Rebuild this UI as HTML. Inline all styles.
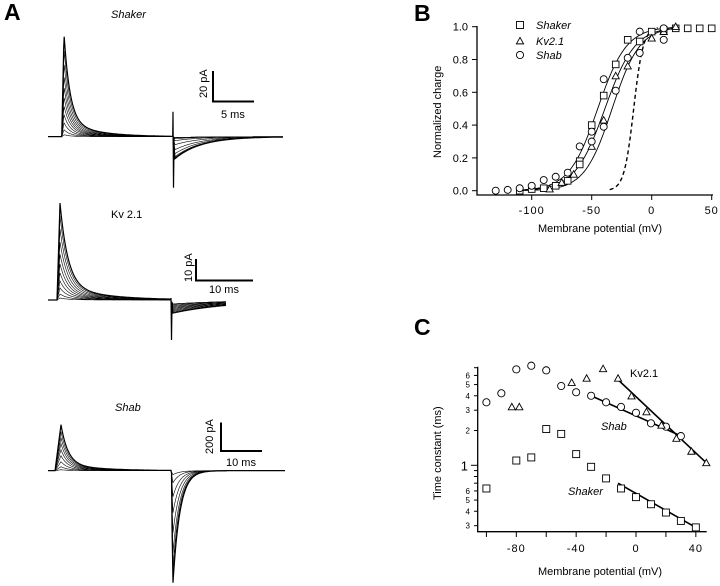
<!DOCTYPE html>
<html><head><meta charset="utf-8"><style>
body{margin:0;background:#fff;}
svg{display:block;font-family:"Liberation Sans",sans-serif;}
text{fill:#000;}
</style></head><body>
<svg id="fig" width="720" height="586" viewBox="0 0 720 586">
<g>
<text x="4" y="20" font-size="23" font-weight="bold">A</text>
<text x="111" y="18" font-size="11" font-style="italic">Shaker</text>
<text x="111" y="218" font-size="11">Kv 2.1</text>
<text x="115" y="411" font-size="11" font-style="italic">Shab</text>
<g id="traces"></g>
<g>
<path d="M213,71 V101.5 H254" fill="none" stroke="#000" stroke-width="2"/>
<text transform="translate(207,98) rotate(-90)" font-size="11">20 pA</text>
<text x="221" y="118" font-size="11">5 ms</text></g>
<g>
<path d="M196,259 V280.5 H253" fill="none" stroke="#000" stroke-width="2"/>
<text transform="translate(192,282) rotate(-90)" font-size="11">10 pA</text>
<text x="209" y="293" font-size="11">10 ms</text></g>
<g>
<path d="M221,422.5 V451 H262" fill="none" stroke="#000" stroke-width="2"/>
<text transform="translate(213,454) rotate(-90)" font-size="11">200 pA</text>
<text x="226" y="466" font-size="11">10 ms</text></g>
</g>
<g id="pb">
<text x="414" y="21" font-size="23" font-weight="bold">B</text>
<text transform="translate(441,158) rotate(-90)" font-size="11">Normalized charge</text>
<text x="600" y="232" font-size="11" text-anchor="middle">Membrane potential (mV)</text>
</g>
<g id="pc">
<text x="414" y="335" font-size="23" font-weight="bold">C</text>
<text transform="translate(441,500) rotate(-90)" font-size="11">Time constant (ms)</text>
<text x="600" y="575" font-size="11" text-anchor="middle">Membrane potential (mV)</text>
<text x="630" y="377" font-size="11">Kv2.1</text>
<text x="601" y="430" font-size="11" font-style="italic">Shab</text>
<text x="568" y="495" font-size="11" font-style="italic">Shaker</text>
</g>
</svg>
<script>
// ---- Panel A trace amplitudes (pixels of deflection) ----
const shakerOnAmps=[103,88,74,61,50,40,31,22,14,7,2];
const shakerOffAmps=[22,21,20,17,13,8,4,2,1];
const kvOnAmps=[97,84,71,58,46,36,27,19,12,6,2];
const kvOffAmps=[13,12,11,10,9,8,7,6,5,4];
const shabOnAmps=[46,39,33,27,21,15,9,4,1];
const shabOffAmps=[112,106,96,82,62,42,26,12,4];
// ---- Panel B data ----
const shakerQV=[[-110,0],[-100,0.01],[-90,0.015],[-80,0.03],[-70,0.06],[-60,0.18],[-60,0.16],[-50,0.40],[-40,0.58],[-30,0.77],[-20,0.92],[-10,0.91],[0,0.97],[10,0.98],[20,0.99],[30,0.99],[40,0.99],[50,0.99]];
const kvQV=[[-85,0.01],[-75,0.05],[-65,0.1],[-50,0.27],[-40,0.43],[-30,0.70],[-20,0.76],[0,0.93],[10,0.97],[20,1.0]];
const shabQV=[[-130,0],[-120,0.005],[-110,0.015],[-100,0.03],[-90,0.065],[-80,0.085],[-70,0.11],[-60,0.27],[-50,0.36],[-50,0.30],[-40,0.68],[-40,0.39],[-30,0.61],[-20,0.81],[-10,0.84],[-10,0.97],[10,0.92],[10,0.99]];
const bFitHalf=[-45,-39,-33];
const bFitSlope=[12,12.5,11.5];
const bDashHalf=-15, bDashSlope=4;
const bXTicks=[-100,-50,0,50];
const bYTicks=[0,0.2,0.4,0.6,0.8,1.0];
// ---- Panel C data ----
const shakerTau=[[-100,0.63],[-80,1.1],[-70,1.17],[-60,2.06],[-50,1.87],[-40,1.25],[-30,0.97],[-20,0.77],[-10,0.63],[0,0.53],[10,0.46],[20,0.39],[30,0.33],[40,0.29]];
const shabTau=[[-100,3.51],[-90,4.2],[-80,6.77],[-70,7.28],[-60,6.64],[-50,4.86],[-40,4.29],[-30,4.0],[-20,3.51],[-10,3.2],[0,2.85],[10,2.31],[20,2.16],[30,1.79]];
const kvTau=[[-83,3.2],[-78,3.2],[-43,5.2],[-33,5.66],[-22,6.85],[-12,5.66],[-3,3.98],[7,2.9],[17,2.22],[27,1.71],[37,1.32],[47,1.05]];
const kvFit=[[-13,5.66],[47,1.05]];
const shabFit=[[-30,4.0],[32,1.75]];
const shakerFit=[[-12,0.7],[42,0.28]];
const cXTicks=[-100,-80,-60,-40,-20,0,20,40];
const cXLabels=[-80,-40,0,40];
const cYMajor=[1];
const cYLabeled=[0.3,0.4,0.5,0.6,2,3,4,5,6];
const cYMinor=[0.7,0.8,0.9,7];

const NS='http://www.w3.org/2000/svg';
function mk(tag,attrs,parent){const e=document.createElementNS(NS,tag);for(const k in attrs)e.setAttribute(k,attrs[k]);parent.appendChild(e);return e;}

// Panel A traces
const tg=document.getElementById('traces');
function trace(x0,xOn,xStep,xEnd,base,amp,tauOn,riseW,offAmp,tauOff,spikeUp,spikeDn,sw){
  let d=`M${x0},${base} L${xOn},${base}`;
  for(let x=xOn;x<=xStep;x+=0.5){let y;const t=x-xOn;
    if(t<riseW)y=base-amp*(t/riseW);else y=base-amp*(0.85*Math.exp(-(t-riseW)/tauOn)+0.15*Math.exp(-(t-riseW)/(tauOn*5)));
    d+=` L${x.toFixed(1)},${y.toFixed(1)}`;}
  d+=` L${xStep},${base-spikeUp} L${xStep+0.5},${base+spikeDn}`;
  for(let x=xStep+1;x<=xEnd;x+=0.5){const t=x-xStep;let y;
    if(t<2)y=base+offAmp*(t/2);else y=base+offAmp*Math.exp(-(t-2)/tauOff);
    d+=` L${x.toFixed(1)},${y.toFixed(1)}`;}
  const p=mk('path',{d:d,fill:'none',stroke:'#000','stroke-width':sw},tg);
  return p;
}
shakerOnAmps.forEach((a,i)=>{const off=shakerOffAmps[Math.min(i,shakerOffAmps.length-1)];
  const p=trace(48,61.7,173,283,136.7,a,6,2.3,off,26,i===0?25:2,i===0?51:20-i,i<1?1.2:0.6);
  
  });
kvOnAmps.forEach((a,i)=>{const off=kvOffAmps[Math.min(i,kvOffAmps.length-1)];
  const p=trace(48,57,171,226,300,a,8,3,off,60,2,i===0?40:off+8,i<1?1.2:0.6);
  
  });
shabOnAmps.forEach((a,i)=>{const off=shabOffAmps[Math.min(i,shabOffAmps.length-1)];
  const p=trace(48,55,171,285,470.7,a,7,6,off,7,0,2,i<1?1.2:0.6);
  
  });

// Panel B
const pb=document.getElementById('pb');
const bx=v=>651.7+1.2*v, by=q=>190.7-164*q;
mk('path',{d:'M477,26 V195 H713',fill:'none',stroke:'#000','stroke-width':1.3,},pb);
bXTicks.forEach(v=>{const l=mk('line',{x1:bx(v),x2:bx(v),y1:195,y2:200,stroke:'#000'},pb);
  
  
  const t=mk('text',{x:bx(v),y:214,'font-size':11,'text-anchor':'middle','letter-spacing':'1'},pb);t.textContent=v;
  
  });
bYTicks.forEach(q=>{const l=mk('line',{x1:472,x2:477,y1:by(q),y2:by(q),stroke:'#000'},pb);
  
  
  const t=mk('text',{x:468,y:by(q)+4,'font-size':11,'text-anchor':'end'},pb);t.textContent=q.toFixed(1);
  
  });
function boltz(h,k,v0,v1){let d='';for(let v=v0;v<=v1;v+=1){const q=1/(1+Math.exp(-(v-h)/k));d+=(d?' L':'M')+bx(v).toFixed(1)+','+by(q).toFixed(1);}return d;}
bFitHalf.forEach((h,i)=>{const p=mk('path',{d:boltz(h,bFitSlope[i],-110,20),fill:'none',stroke:'#000','stroke-width':0.9},pb);
  
  });
const dp=mk('path',{d:boltz(bDashHalf,bDashSlope,-35,5),fill:'none',stroke:'#000','stroke-width':1.4,'stroke-dasharray':'4,3'},pb);


function sq(x,y,s,g){return mk('rect',{x:x-s,y:y-s,width:2*s,height:2*s,fill:'#fff',stroke:'#000','stroke-width':0.9},g);}
function tri(x,y,s,g){return mk('path',{d:`M${x},${y-s} L${x+s},${y+s*0.8} L${x-s},${y+s*0.8}Z`,fill:'#fff',stroke:'#000','stroke-width':0.9},g);}
function circ(x,y,s,g){return mk('circle',{cx:x,cy:y,r:s,fill:'#fff',stroke:'#000','stroke-width':0.9},g);}
shakerQV.forEach(([v,q])=>{const e=sq(bx(v),by(q),3.3,pb);
  });
kvQV.forEach(([v,q])=>{const e=tri(bx(v),by(q),3.6,pb);
  });
shabQV.forEach(([v,q])=>{const e=circ(bx(v),by(q),3.5,pb);
  });
// legend
const lg=mk('g',{},pb);
sq(520,25,3.5,lg);tri(520,41,3.6,lg);circ(520,55,3.6,lg);
[['Shaker',29],['Kv2.1',45],['Shab',59]].forEach(([s,y])=>{const t=mk('text',{x:536,y:y,'font-size':11,'font-style':'italic'},lg);t.textContent=s;
  
  });

// Panel C
const pc=document.getElementById('pc');
const cx=v=>636+1.496*v, cy=t=>465.3-115.5*Math.log10(t);
mk('path',{d:'M477.7,366.7 V531.7 H706.7',fill:'none',stroke:'#000','stroke-width':1.3,},pc);
cXTicks.forEach(v=>{const l=mk('line',{x1:cx(v),x2:cx(v),y1:531.7,y2:537,stroke:'#000'},pc);
  
  });
cXLabels.forEach(v=>{const t=mk('text',{x:cx(v),y:552,'font-size':11,'text-anchor':'middle','letter-spacing':'1'},pc);t.textContent=v;
  
  });
cYMajor.forEach(v=>{mk('line',{x1:471,x2:477.7,y1:cy(v),y2:cy(v),stroke:'#000'},pc);
  const t=mk('text',{x:468,y:cy(v)+5,'font-size':13,'text-anchor':'end'},pc);t.textContent=v;
  
  });
cYLabeled.forEach(v=>{mk('line',{x1:474,x2:477.7,y1:cy(v),y2:cy(v),stroke:'#000'},pc);
  const t=mk('text',{x:470,y:cy(v)+3,'font-size':8,'text-anchor':'end'},pc);t.textContent=v<1?Math.round(v*10):v;
  
  });
cYMinor.forEach(v=>{const l=mk('line',{x1:474,x2:477.7,y1:cy(v),y2:cy(v),stroke:'#000'},pc);
  
  });
[kvFit,shabFit,shakerFit].forEach(f=>{const l=mk('line',{x1:cx(f[0][0]),y1:cy(f[0][1]),x2:cx(f[1][0]),y2:cy(f[1][1]),stroke:'#000','stroke-width':1.6},pc);
  
  });
shakerTau.forEach(([v,t])=>{const e=sq(cx(v),cy(t),3.5,pc);
  });
shabTau.forEach(([v,t])=>{const e=circ(cx(v),cy(t),3.6,pc);
  });
kvTau.forEach(([v,t])=>{const e=tri(cx(v),cy(t),3.6,pc);
  });
</script>
</body></html>
